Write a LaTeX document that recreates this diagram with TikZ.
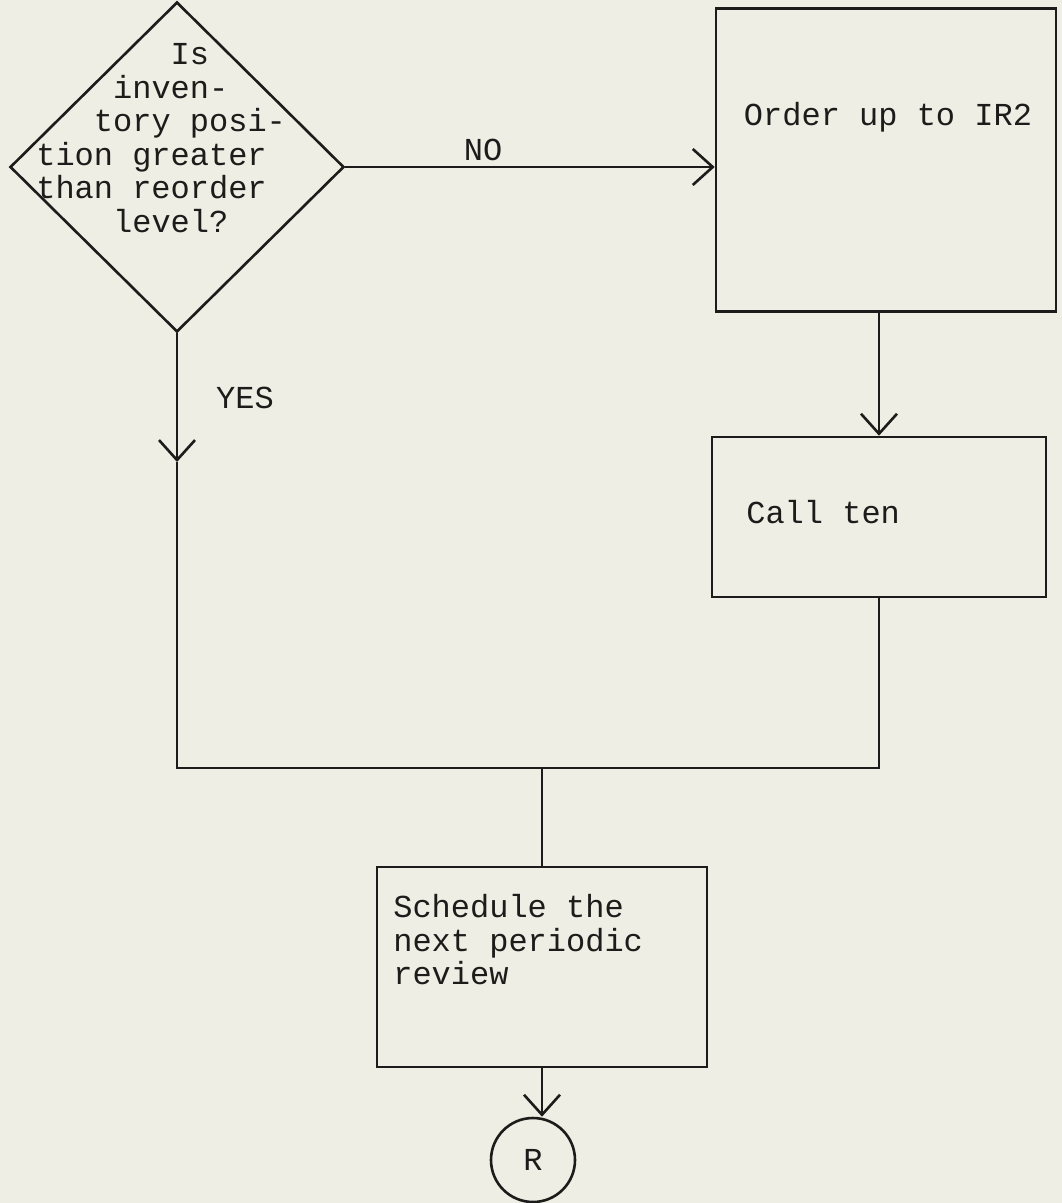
\documentclass[tikz,border=0pt]{standalone}
\usepackage{fontspec}
\setmonofont{Liberation Mono}
\usetikzlibrary{shapes.geometric,arrows.meta}
\definecolor{paper}{RGB}{238,238,228}
\definecolor{ink}{RGB}{28,28,26}
\begin{document}
\begin{tikzpicture}[x=1pt,y=-1pt,
  line width=2.6pt, draw=ink,
  boxnode/.style={draw=ink, rectangle, inner sep=0pt},
  txt/.style={font=\ttfamily\fontsize{32}{33.5}\selectfont, text=ink, inner sep=0pt},
  arr/.style={-{Straight Barb[length=20pt,width=36pt,line width=2.6pt]}}]
\useasboundingbox[fill=paper] (0,0) rectangle (1062,1203);

% decision
\node (dia) [diamond, draw=ink, inner sep=0pt, minimum width=334pt, minimum height=330pt] at (177,167) {};
\node (qtext) [txt, align=left, anchor=north west] at (35,42)
  {\phantom{0000000}Is\\ \phantom{0000}inven-\\ \phantom{000}tory posi-\\ tion greater\\ than reorder\\ \phantom{0000}level?};

% order box
\node (order) [boxnode, minimum width=340pt, minimum height=303pt] at (886,160) {};
\node (ordtext) [txt] at (888,117) {Order up to IR2};

% call box
\node (call) [boxnode, minimum width=334pt, minimum height=160pt] at (879,517) {};
\node (calltext) [txt, anchor=west] at (745,512) {Call ten};

% schedule box
\node (sched) [boxnode, minimum width=330pt, minimum height=200pt] at (542,967) {};
\node (schedtext) [txt, align=left, anchor=north west] at (392,893)
  {Schedule the\\ next periodic\\ review};

% connector circle
\node (R) [circle, draw=ink, minimum size=84pt, inner sep=0pt] at (533,1160) {};
\node (rtext) [txt] at (R.center) {R};

% labels
\node (nolab) [txt] at (483,150) {NO};
\node (yeslab) [txt] at (245,398) {YES};

% junction coordinates
\coordinate (yesmid) at (dia.south |- 0,462);
\coordinate (mergeL) at (dia.south |- 0,768);
\coordinate (mergeR) at (call.south |- 0,768);
\coordinate (mergeM) at (sched.north |- 0,768);

% connectors
\draw[arr] (dia.east) -- (dia.east -| order.west);
\draw[arr] (call.north |- order.south) -- (call.north);
\draw[arr] (dia.south) -- (yesmid);
\draw (yesmid) -- (mergeL) -- (mergeR) -- (call.south);
\draw (mergeM) -- (sched.north);
\draw[arr] (sched.south) -- (sched.south |- R.north);
\end{tikzpicture}
\end{document}
